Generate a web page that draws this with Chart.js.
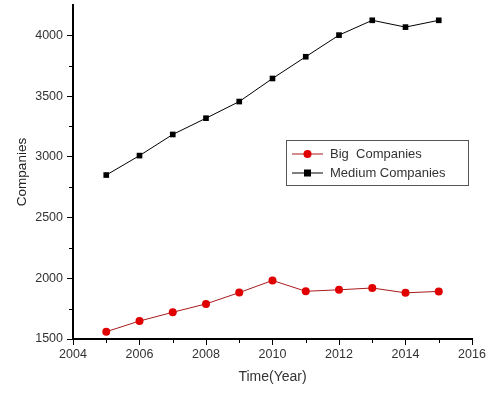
<!DOCTYPE html>
<html>
<head>
<meta charset="utf-8">
<script src="https://cdn.jsdelivr.net/npm/chart.js@4/dist/chart.umd.min.js"></script>
<style>
  html, body { margin: 0; padding: 0; background: #fff; }
  #wrap { width: 486px; height: 394px; position: relative; }
</style>
</head>
<body>
<div id="wrap"><canvas id="c" width="486" height="394"></canvas></div>
<script>
// Number of companies per year, 2005–2015
const years = [2005, 2006, 2007, 2008, 2009, 2010, 2011, 2012, 2013, 2014, 2015];
const bigCompanies = [1560, 1648, 1720, 1789, 1882, 1982, 1893, 1905, 1920, 1880, 1892];
const mediumCompanies = [2850, 3010, 3184, 3318, 3455, 3645, 3824, 4002, 4124, 4068, 4124];

const xMajorTicks = [2004, 2006, 2008, 2010, 2012, 2014, 2016];
const xMinorTicks = [2005, 2007, 2009, 2011, 2013, 2015];
const yMajorTicks = [1500, 2000, 2500, 3000, 3500, 4000];
const yMinorTicks = [1750, 2250, 2750, 3250, 3750, 4250];

const FONT = "'Liberation Sans', Arial, sans-serif";
const TEXT = '#333333';

// short minor tick marks on both axes
const minorTicks = {
  id: 'minorTicks',
  afterDraw(chart) {
    const { ctx, scales: { x, y } } = chart;
    ctx.save();
    ctx.strokeStyle = '#000';
    ctx.lineWidth = 1;
    ctx.beginPath();
    xMinorTicks.forEach(v => {
      const px = Math.round(x.getPixelForValue(v)) + 0.5;
      ctx.moveTo(px, y.bottom);
      ctx.lineTo(px, y.bottom + 4);
    });
    yMinorTicks.forEach(v => {
      if (v >= y.max) return;
      const py = Math.round(y.getPixelForValue(v)) + 0.5;
      ctx.moveTo(x.left, py);
      ctx.lineTo(x.left - 4, py);
    });
    ctx.stroke();
    ctx.restore();
  }
};

// boxed legend inside the plot area, line-marker-line samples
const boxLegend = {
  id: 'boxLegend',
  afterDraw(chart) {
    const { ctx, chartArea } = chart;
    const left = chartArea.right - 186;
    const top = chartArea.top + 135;
    const w = 182, h = 45;
    ctx.save();
    ctx.fillStyle = '#fff';
    ctx.fillRect(left, top, w, h);
    ctx.strokeStyle = '#555';
    ctx.lineWidth = 1;
    ctx.strokeRect(left + 0.5, top + 0.5, w, h);
    ctx.font = '13px ' + FONT;
    ctx.textBaseline = 'middle';
    ctx.fillStyle = TEXT;
    [0, 1].forEach(i => {
      const ds = chart.data.datasets[i];
      const cy = top + 14 + i * 19;
      ctx.strokeStyle = ds.borderColor;
      ctx.lineWidth = 1;
      ctx.beginPath();
      ctx.moveTo(left + 6, cy);
      ctx.lineTo(left + 37, cy);
      ctx.stroke();
      const mx = left + 21.5;
      ctx.fillStyle = ds.pointBackgroundColor;
      if (ds.pointStyle === 'rect') {
        ctx.fillRect(mx - 3.5, cy - 3.5, 7, 7);
      } else {
        ctx.beginPath();
        ctx.arc(mx, cy, 4, 0, Math.PI * 2);
        ctx.fill();
      }
      ctx.fillStyle = TEXT;
      ctx.fillText(ds.label, left + 44, cy);
    });
    ctx.restore();
  }
};

new Chart(document.getElementById('c'), {
  type: 'line',
  data: {
    datasets: [
      {
        label: 'Big  Companies',
        data: years.map((yr, i) => ({ x: yr, y: bigCompanies[i] })),
        borderColor: '#a81a1a',
        borderWidth: 1,
        pointStyle: 'circle',
        pointRadius: 4,
        pointBackgroundColor: '#e00000',
        pointBorderColor: '#e00000',
        pointBorderWidth: 0,
        tension: 0
      },
      {
        label: 'Medium Companies',
        data: years.map((yr, i) => ({ x: yr, y: mediumCompanies[i] })),
        borderColor: '#000000',
        borderWidth: 1,
        pointStyle: 'rect',
        pointRadius: 4,
        pointBackgroundColor: '#000000',
        pointBorderColor: '#000000',
        pointBorderWidth: 0,
        tension: 0
      }
    ]
  },
  options: {
    responsive: false,
    animation: false,
    layout: { padding: { top: 5, right: 14, left: 0, bottom: 0 } },
    plugins: {
      legend: { display: false },
      tooltip: { enabled: false }
    },
    scales: {
      x: {
        type: 'linear',
        min: 2004,
        max: 2016,
        afterBuildTicks(scale) {
          scale.ticks = xMajorTicks.map(v => ({ value: v }));
        },
        afterFit(scale) {
          scale.height = 55;
          scale.paddingLeft = 0;
          scale.paddingRight = 0;
        },
        ticks: {
          color: TEXT,
          font: { family: FONT, size: 12.5 },
          padding: 2,
          maxRotation: 0,
          callback: v => String(v)
        },
        grid: {
          drawOnChartArea: false,
          drawTicks: true,
          tickLength: 6,
          tickColor: '#000',
          tickWidth: 1
        },
        border: { color: '#000', width: 2 },
        title: {
          display: true,
          text: 'Time(Year)',
          color: TEXT,
          font: { family: FONT, size: 14 },
          padding: { top: 0, bottom: 8 }
        }
      },
      y: {
        type: 'linear',
        min: 1500,
        max: 4250,
        afterBuildTicks(scale) {
          scale.ticks = yMajorTicks.map(v => ({ value: v }));
        },
        afterFit(scale) {
          scale.width = 73;
          scale.paddingTop = 0;
          scale.paddingBottom = 0;
        },
        ticks: {
          color: TEXT,
          font: { family: FONT, size: 12.5 },
          padding: 4,
          callback: v => String(v)
        },
        grid: {
          drawOnChartArea: false,
          drawTicks: true,
          tickLength: 6,
          tickColor: '#000',
          tickWidth: 1
        },
        border: { color: '#000', width: 2 },
        title: {
          display: true,
          text: 'Companies',
          color: '#222',
          font: { family: FONT, size: 13.5 },
          padding: { top: 14, bottom: 0 }
        }
      }
    }
  },
  plugins: [minorTicks, boxLegend]
});
</script>
</body>
</html>
